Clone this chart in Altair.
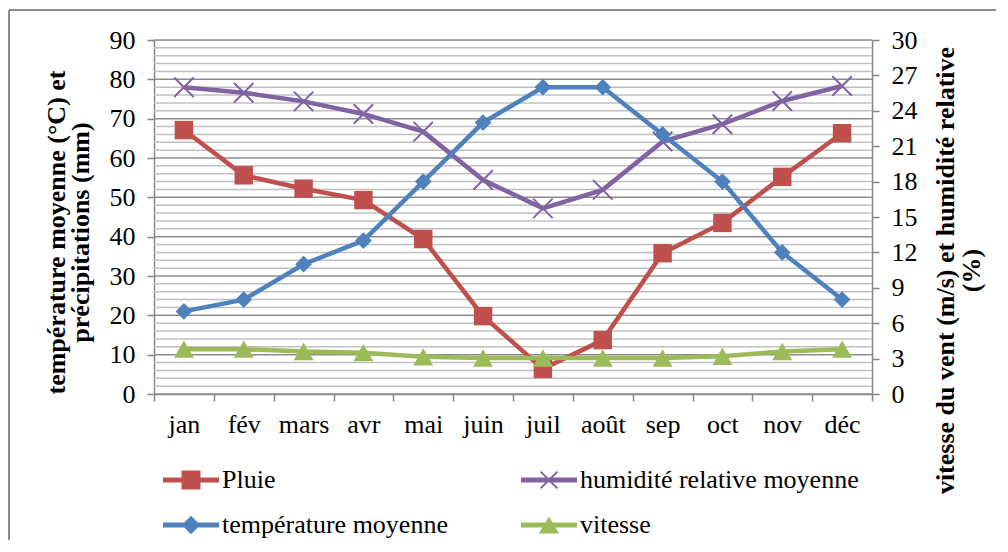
import altair as alt
import pandas as pd

months = ["jan", "fév", "mars", "avr", "mai", "juin", "juil", "août", "sep", "oct", "nov", "déc"]
pluie = [67.1, 55.6, 52.2, 49.3, 39.4, 19.8, 6.4, 13.7, 35.8, 43.5, 55.2, 66.3]
humidite = [78.0, 76.6, 74.4, 71.2, 66.7, 54.4, 47.2, 51.9, 64.2, 68.6, 74.5, 78.3]
temperature = [7.0, 8.0, 11.0, 13.0, 18.0, 23.0, 26.0, 26.0, 22.0, 18.0, 12.0, 8.0]
vitesse = [3.8, 3.8, 3.6, 3.5, 3.15, 3.05, 3.05, 3.05, 3.05, 3.2, 3.6, 3.8]

series = ["Pluie", "humidité relative moyenne", "température moyenne", "vitesse"]
colors = ["#C0504D", "#8064A2", "#4F81BD", "#9BBB59"]
left_ticks = [0, 10, 20, 30, 40, 50, 60, 70, 80, 90]
right_ticks = [0, 3, 6, 9, 12, 15, 18, 21, 24, 27, 30]
grid_values = list(range(0, 91, 2))

FONT = "Liberation Serif"
FS = 26
AXIS_GRAY = "#868686"

# legend symbols: line + marker
LINE = "M-1,-0.09L1,-0.09L1,0.09L-1,0.09Z"
leg_shapes = [
    LINE + "M-0.34,-0.34L0.34,-0.34L0.34,0.34L-0.34,0.34Z",
    LINE + "M-0.275,-0.325L0.325,0.275L0.275,0.325L-0.325,-0.275Z"
           "M-0.275,0.325L-0.325,0.275L0.275,-0.325L0.325,-0.275Z",
    LINE + "M0,-0.33L0.33,0L0,0.33L-0.33,0Z",
    LINE + "M0,-0.3L0.36,0.3L-0.36,0.3Z",
]
XPATH = "M-1,-1L1,1M-1,1L1,-1"


def frame(name, vals):
    return pd.DataFrame({"mois": months, "serie": [name] * len(months), "valeur": vals})


df_p = frame(series[0], pluie)
df_h = frame(series[1], humidite)
df_t = frame(series[2], temperature)
df_v = frame(series[3], vitesse)
df_all = pd.concat([df_p, df_h, df_t, df_v], ignore_index=True)

X = alt.X(
    "mois:N",
    sort=months,
    scale=alt.Scale(type="band", domain=months, paddingInner=0, paddingOuter=0),
    axis=alt.Axis(
        title=None, labelAngle=0, tickBand="extent", tickSize=7, labelPadding=10,
        labelFont=FONT, labelFontSize=FS, labelColor="black",
        domainColor=AXIS_GRAY, domainWidth=1.5, tickColor=AXIS_GRAY, tickWidth=1.5,
        grid=False,
    ),
)

left_axis = alt.Axis(
    values=left_ticks, grid=False, tickSize=7, labelPadding=12,
    labelFont=FONT, labelFontSize=FS, labelColor="black",
    domainColor=AXIS_GRAY, domainWidth=1.5, tickColor=AXIS_GRAY, tickWidth=1.5,
    title=["température moyenne (°C) et", "précipitations (mm)"],
    titleFont=FONT, titleFontSize=FS, titleFontWeight="bold", titleColor="black",
    titleAngle=270, titleAlign="center", titleBaseline="top", titleLineHeight=24,
    titleX=-111, titleY=192,
)
left_scale = alt.Scale(domain=[0, 90], nice=False, zero=True)
Y_left = alt.Y("valeur:Q", scale=left_scale, axis=left_axis)

Y_right = alt.Y(
    "valeur:Q",
    scale=alt.Scale(domain=[0, 30], nice=False, zero=True),
    axis=alt.Axis(
        orient="right", values=right_ticks, grid=False, tickSize=7, labelPadding=12,
        labelFont=FONT, labelFontSize=FS, labelColor="black",
        domainColor=AXIS_GRAY, domainWidth=1.5, tickColor=AXIS_GRAY, tickWidth=1.5,
        title=["vitesse du vent (m/s) et humidité relative", "(%)"],
        titleFont=FONT, titleFontSize=FS, titleFontWeight="bold", titleColor="black",
        titleAngle=270, titleAlign="center", titleBaseline="top", titleLineHeight=26,
        titleX=60, titleY=230,
    ),
)

grid_df = pd.DataFrame({"valeur": grid_values})
grid = alt.Chart(grid_df).mark_rule(strokeWidth=1.5).encode(
    y=Y_left,
    color=alt.condition("datum.valeur % 10 === 0", alt.value("#8C8C8C"), alt.value("#C0C0C0")),
)


def line(df, col, yenc):
    return alt.Chart(df).mark_line(strokeWidth=4.5, color=col).encode(x=X, y=yenc)


def pts(df, col, yenc, shape, size, filled=True):
    m = alt.Chart(df).mark_point(
        shape=shape, size=size, filled=filled, color=col, opacity=1,
        strokeWidth=0 if filled else 2,
    )
    return m.encode(x=X, y=yenc)


# legend carrier: marks placed below the plot and clipped away
legend_layer = alt.Chart(df_all).mark_point(filled=True, clip=True, opacity=1).transform_calculate(
    hors="-1000"
).encode(
    x=X,
    y=alt.Y("hors:Q", scale=left_scale, axis=left_axis),
    color=alt.Color(
        "serie:N",
        scale=alt.Scale(domain=series, range=colors),
        legend=alt.Legend(
            title=None, orient="none", legendX=9, legendY=412, columns=2,
            direction="horizontal",
            symbolSize=3136, symbolStrokeWidth=0, symbolOpacity=1,
            labelFont=FONT, labelFontSize=FS, labelColor="black", labelOffset=3,
            columnPadding=73, rowPadding=4, padding=0, labelLimit=400,
        ),
    ),
    shape=alt.Shape("serie:N", scale=alt.Scale(domain=series, range=leg_shapes)),
)

left = alt.layer(
    grid,
    line(df_p, colors[0], Y_left),
    pts(df_p, colors[0], Y_left, "square", 340),
    line(df_h, colors[1], Y_left),
    pts(df_h, colors[1], Y_left, XPATH, 380, filled=False),
    legend_layer,
)

right = alt.layer(
    line(df_t, colors[2], Y_right),
    pts(df_t, colors[2], Y_right, "diamond", 280),
    line(df_v, colors[3], Y_right),
    pts(df_v, colors[3], Y_right, "triangle-up", 400),
)

border_df = pd.DataFrame({"k": [0]})
border_top = alt.Chart(border_df).mark_rule(color="#8C8C8C", strokeWidth=2).encode(
    x=alt.value(-145), x2=alt.value(900), y=alt.value(-30)
)
border_left = alt.Chart(border_df).mark_rule(color="#8C8C8C", strokeWidth=2).encode(
    x=alt.value(-145), y=alt.value(-30), y2=alt.value(560)
)

chart = alt.layer(left, right, border_top, border_left).resolve_scale(
    y="independent"
).properties(
    width=718,
    height=354,
    padding={"left": 146, "top": 32, "right": 124, "bottom": 146},
    autosize=alt.AutoSizeParams(type="none"),
).configure_view(strokeWidth=0).configure(background="white")

chart.save("out.html", embed_options={"renderer": "svg", "actions": False})
